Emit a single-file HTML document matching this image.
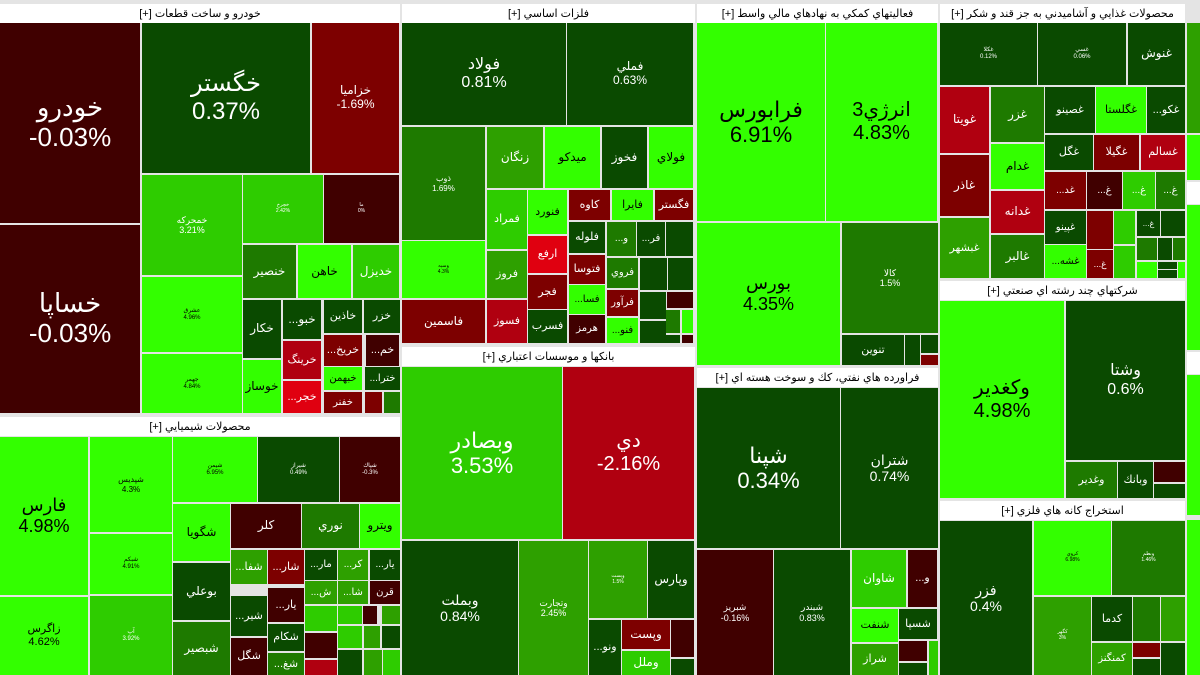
<!DOCTYPE html>
<html><head><meta charset="utf-8"><style>
html,body{margin:0;padding:0}
body{width:1200px;height:675px;position:relative;overflow:hidden;background:#e4e4e4;font-family:"Liberation Sans","DejaVu Sans",sans-serif}
.c{position:absolute;display:flex;flex-direction:column;align-items:center;justify-content:center;text-align:center;overflow:hidden;line-height:1.15;white-space:nowrap;direction:rtl}
.h{position:absolute;background:#fff;font-size:11px;color:#000;display:flex;align-items:center;justify-content:center;direction:rtl;white-space:nowrap;overflow:hidden}
</style></head><body>
<div id="r"></div>
<script>
var A='#0a4a00',B='#1e7a00',C='#2ea000',D='#2ecc00',L='#33ff00',R='#7d0000',Q='#400000',S='#b00010',T='#e00010';
var H=[[0,4,400,19,'خودرو و ساخت قطعات [+]'],[0,417,400,19,'محصولات شيميايي [+]'],[402,4,293,19,'فلزات اساسي [+]'],[402,347,293,19,'بانكها و موسسات اعتباري [+]'],[697,4,241,19,'فعاليتهاي كمكي به نهادهاي مالي واسط [+]'],[697,368,241,19,'فراورده هاي نفتي، كك و سوخت هسته اي [+]'],[940,4,245,19,'محصولات غذايي و آشاميدني به جز قند و شكر [+]'],[940,281,245,19,'شركتهاي چند رشته اي صنعتي [+]'],[940,501,245,19,'استخراج كانه هاي فلزي [+]'],[1187,182,13,22,''],[1187,352,13,22,'']];
var X=[
[0,23,140,200,Q,'خودرو','-0.03%',26],[0,225,140,188,Q,'خساپا','-0.03%',26],
[142,23,168,150,A,'خگستر','0.37%',24],[312,23,87,150,R,'خزاميا','-1.69%',12],
[142,175,100,100,D,'خمحركه','3.21%',9],[243,175,80,68,D,'خچرخ','2.42%',5],[324,175,75,68,Q,'ما','0%',5],
[243,245,53,53,B,'خنصير','',12],[298,245,53,53,L,'خاهن','',12],[353,245,46,53,D,'خديزل','',12],
[243,300,38,58,A,'خكار','',12],[243,360,38,53,L,'خوساز','',12],
[283,300,38,39,A,'خبو...','',12],[283,341,38,38,S,'خرينگ','',11],[283,381,38,32,T,'خجر...','',11],
[324,300,38,33,A,'خاذين','',11],[324,335,38,31,R,'خريخ...','',11],[324,367,38,23,L,'خبهمن','',10],[324,392,38,21,R,'خفنر','',10],
[364,300,36,33,A,'خزر','',11],[366,335,33,31,Q,'خم...','',11],[365,367,35,23,A,'خترا...','',10],[365,392,17,21,R,'','',8],[384,392,16,21,B,'','',8],
[142,277,100,75,L,'عشرق','4.96%',6],[142,354,100,59,L,'جهمر','4.84%',6],
[0,437,88,158,L,'فارس','4.98%',18],[0,597,88,78,L,'زاگرس','4.62%',11],
[90,437,82,95,L,'شپديس','4.3%',8],[90,534,82,60,L,'شبكم','4.91%',6],[90,596,82,79,D,'آپ','3.92%',6],
[173,437,84,65,L,'شيمن','6.95%',6],[258,437,81,65,A,'شيراز','0.49%',6],[340,437,60,65,Q,'شپاك','-0.3%',6],
[173,504,57,57,L,'شگويا','',12],[173,563,57,57,A,'بوعلي','',12],[173,622,57,53,B,'شبصير','',12],
[231,504,70,44,Q,'كلر','',12],[302,504,57,44,B,'نوري','',12],[360,504,40,44,L,'ويترو','',12],
[231,550,36,34,C,'شفا...','',11],[231,596,36,40,A,'شير...','',11],[231,638,36,37,Q,'شگل','',11],
[268,550,36,34,R,'شار...','',11],[268,588,36,34,Q,'يار...','',11],[268,624,36,27,A,'شكام','',11],[268,653,36,22,B,'شغ...','',11],
[305,550,32,30,A,'مار...','',10],[305,581,32,23,C,'ش...','',10],[305,606,32,25,D,'','',8],[305,633,32,25,Q,'','',8],[305,660,32,15,S,'','',8],
[338,550,30,30,C,'كر...','',10],[338,581,30,23,C,'شا...','',10],[338,606,24,18,D,'','',8],[363,606,14,18,Q,'','',8],[338,626,24,22,D,'','',8],[338,650,24,25,A,'','',8],[364,626,16,22,C,'','',8],[382,606,18,18,C,'','',8],[382,626,18,22,A,'','',8],[364,650,18,25,C,'','',8],[383,650,17,25,D,'','',8],
[370,550,30,30,A,'يار...','',10],[370,581,30,23,Q,'قرن','',10],
[402,23,164,102,A,'فولاد','0.81%',16],[567,23,126,102,A,'فملي','0.63%',12],
[402,127,83,113,B,'ذوب','1.69%',8],[402,241,83,57,L,'وسپه','4.3%',5],[402,300,83,43,R,'فاسمين','',12],
[487,127,56,61,C,'زنگان','',12],[545,127,55,61,L,'ميدكو','',12],[602,127,45,61,A,'فخوز','',12],[649,127,44,61,L,'فولاي','',12],
[487,190,40,59,D,'فمراد','',11],[487,251,40,47,C,'فروز','',11],[487,300,40,43,S,'فسوز','',11],
[528,190,39,44,L,'فنورد','',11],[528,236,39,37,T,'ارفع','',11],[528,275,39,34,R,'فجر','',11],[528,310,39,33,A,'فسرب','',11],
[569,190,41,30,R,'كاوه','',11],[612,190,41,30,L,'فايرا','',11],[655,190,38,30,R,'فگستر','',11],
[569,222,36,31,A,'فلوله','',11],[569,255,36,29,R,'فتوسا','',11],[569,285,36,29,L,'فسا...','',10],[569,315,36,28,Q,'هرمز','',10],
[607,222,29,34,B,'و...','',10],[637,222,28,34,A,'فر...','',10],[666,222,27,34,A,'','',8],
[607,258,31,30,B,'فروي','',10],[607,290,31,26,R,'فرآور','',10],[607,318,31,25,L,'فنو...','',10],
[640,258,27,32,A,'','',8],[668,258,25,32,A,'','',8],[640,292,26,27,A,'','',8],[667,292,26,16,Q,'','',8],[666,310,14,23,B,'','',8],[682,310,11,23,L,'','',8],[640,321,26,22,A,'','',8],[666,335,14,8,A,'','',8],[682,335,11,8,Q,'','',8],
[402,367,160,172,D,'وبصادر','3.53%',22],[563,367,131,172,S,'دي','-2.16%',20],
[402,541,116,134,A,'وبملت','0.84%',14],[519,541,69,134,C,'وتجارت','2.45%',9],[589,541,58,77,C,'وپست','1.5%',5],[648,541,46,77,A,'وپارس','',12],
[589,620,32,55,A,'ونو...','',11],[622,620,48,29,R,'وپست','',12],[622,651,48,24,D,'وملل','',12],[671,620,23,37,Q,'','',8],[671,659,23,16,A,'','',8],
[697,23,128,198,L,'فرابورس','6.91%',22],[826,23,111,198,L,'انرژي3','4.83%',20],
[697,223,143,142,L,'بورس','4.35%',18],[842,223,96,110,B,'كالا','1.5%',9],[842,335,62,30,A,'تنوين','',11],[905,335,15,30,A,'','',8],[921,335,17,18,A,'','',8],[921,355,17,10,R,'','',8],
[697,388,143,160,A,'شپنا','0.34%',22],[841,388,97,160,A,'شتران','0.74%',14],
[697,550,76,125,Q,'شبريز','-0.16%',9],[774,550,76,125,A,'شبندر','0.83%',9],[852,550,54,57,D,'شاوان','',12],[908,550,29,57,Q,'و...','',11],[852,609,46,33,L,'شنفت','',11],[899,609,38,30,A,'شسپا','',11],[852,644,46,31,C,'شراز','',11],[899,641,28,20,Q,'','',8],[899,663,28,12,A,'','',8],[929,641,9,34,D,'','',8],
[940,23,97,62,A,'غكلا','0.12%',6],[1038,23,88,62,A,'غسي','0.06%',6],[1128,23,57,62,A,'غنوش','',12],
[940,87,49,66,S,'غويتا','',12],[940,155,49,61,R,'غاذر','',12],[940,218,49,60,C,'غبشهر','',11],
[991,87,53,55,B,'غزر','',12],[991,144,53,45,L,'غدام','',12],[991,191,53,42,S,'غدانه','',12],[991,235,53,43,B,'غالبر','',12],
[1045,87,50,46,A,'غصينو','',11],[1096,87,50,46,L,'غگلستا','',11],[1147,87,38,46,A,'غكو...','',11],
[1045,135,48,35,A,'غگل','',11],[1094,135,45,35,R,'غگيلا','',11],[1141,135,44,35,S,'غسالم','',11],
[1045,172,41,37,R,'غد...','',10],[1087,172,35,37,Q,'غ...','',10],[1123,172,32,37,D,'غ...','',10],[1156,172,29,37,B,'غ...','',10],
[1045,211,41,33,A,'غپينو','',10],[1045,245,41,33,L,'غشه...','',10],[1087,211,26,38,R,'','',8],[1087,250,26,28,R,'غ...','',9],[1114,211,21,33,D,'','',8],[1114,246,21,32,D,'','',8],[1137,211,23,25,A,'غ...','',8],[1161,211,24,25,A,'','',8],[1137,238,20,22,B,'','',8],[1158,238,14,22,A,'','',8],[1173,238,12,22,B,'','',8],[1137,262,20,16,L,'','',8],[1158,262,19,7,A,'','',8],[1158,270,19,8,A,'','',8],[1178,262,7,16,L,'','',8],
[940,301,124,197,L,'وكغدير','4.98%',20],[1066,301,119,159,A,'وشتا','0.6%',16],[1066,462,51,36,B,'وغدير','',11],[1118,462,35,36,A,'وبانك','',11],[1154,462,31,20,Q,'','',8],[1154,484,31,14,A,'','',8],
[940,521,92,154,A,'فزر','0.4%',14],[1034,521,77,74,L,'كروي','6.98%',5],[1112,521,73,74,B,'وبطم','1.46%',5],[1034,597,57,78,C,'كگهر','3%',5],[1092,597,40,44,A,'كدما','',11],[1092,643,40,32,C,'كمنگنز','',10],[1133,597,27,44,B,'','',8],[1161,597,24,44,C,'','',8],[1133,643,27,14,R,'','',8],[1133,659,27,16,A,'','',8],[1161,643,24,32,A,'','',8],
[1187,23,13,110,C,'','',8],[1187,135,13,45,L,'','',8],[1187,205,13,145,L,'','',8],[1187,375,13,140,L,'','',8],[1187,520,13,155,L,'','',8]
];
var h='';
H.forEach(function(a){h+='<div class="h" style="left:'+a[0]+'px;top:'+a[1]+'px;width:'+a[2]+'px;height:'+a[3]+'px">'+a[4]+'</div>';});
X.forEach(function(a){var col=(a[4]==L)?'#000':'#fff';
h+='<div class="c" style="left:'+a[0]+'px;top:'+a[1]+'px;width:'+a[2]+'px;height:'+a[3]+'px;background:'+a[4]+';color:'+col+';font-size:'+a[7]+'px">'+(a[5]?'<div>'+a[5]+'</div>':'')+(a[6]?'<div style="direction:ltr">'+a[6]+'</div>':'')+'</div>';});
document.getElementById('r').innerHTML=h;
</script>
</body></html>
